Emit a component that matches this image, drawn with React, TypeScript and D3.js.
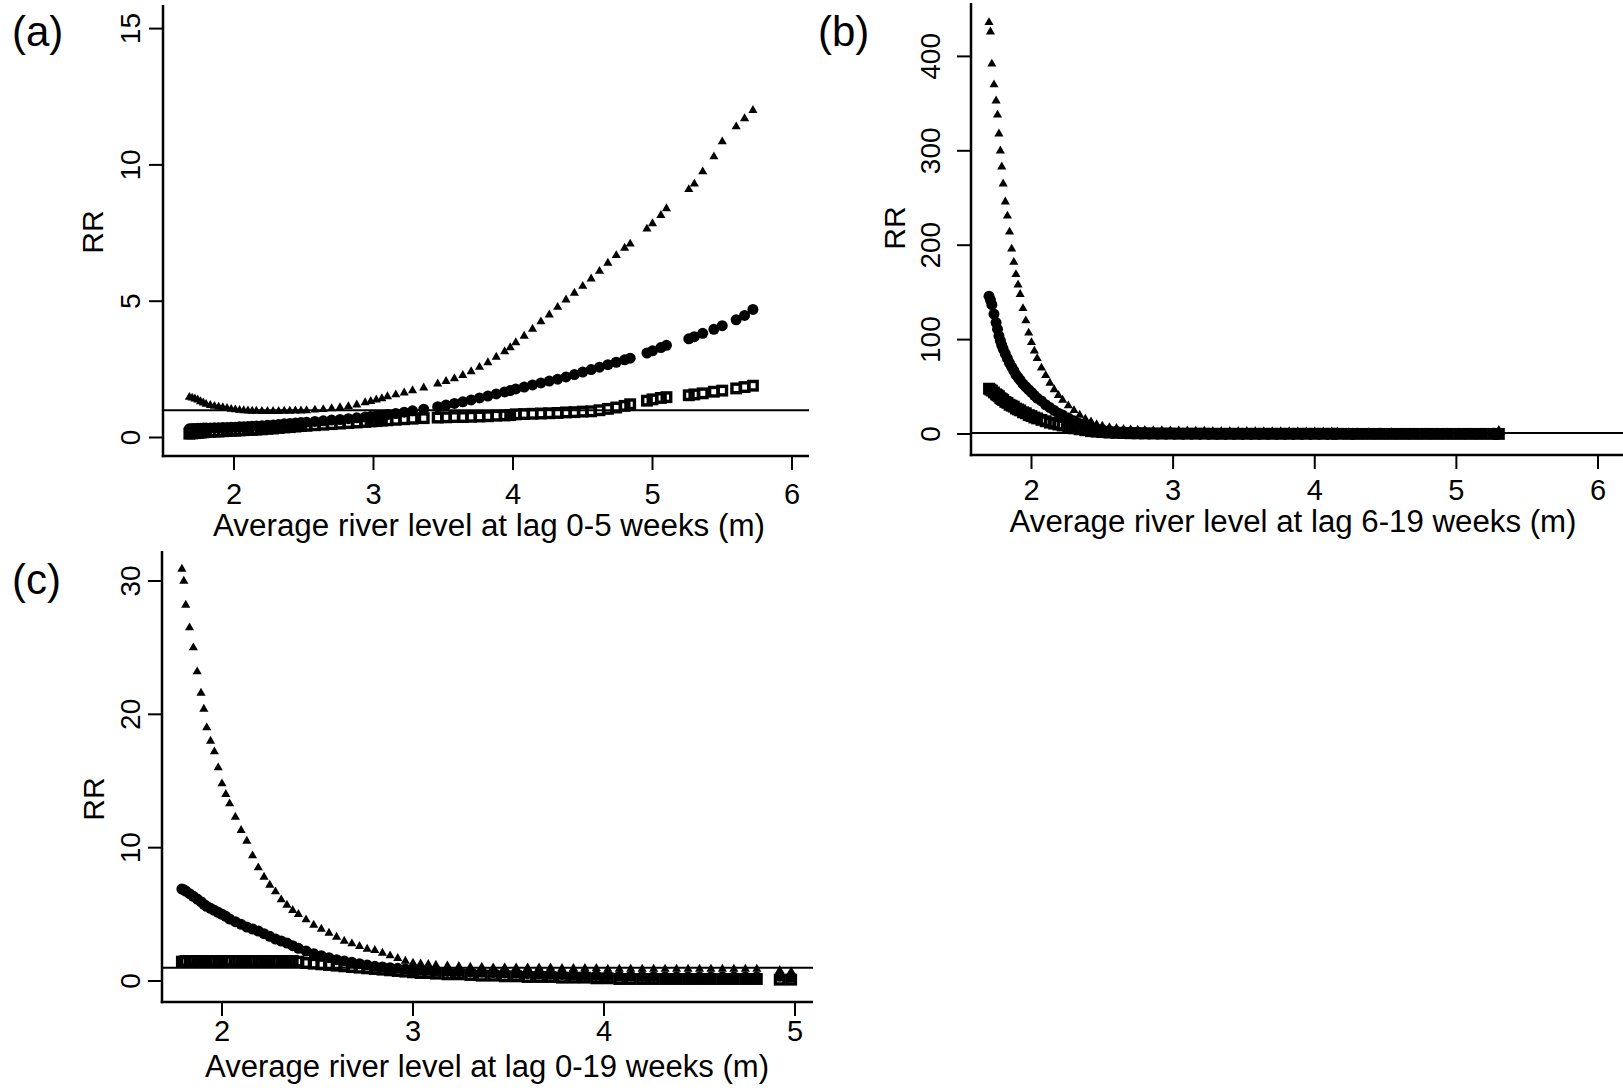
import React from 'react';
import * as d3 from 'd3';

// ---------- Panel (a): average river level at lag 0-5 weeks ----------
const levelsA = [1.68, 1.70, 1.72, 1.74, 1.76, 1.78, 1.80, 1.83, 1.86, 1.89, 1.92, 1.95, 1.98, 2.01, 2.04, 2.07, 2.10, 2.13, 2.16, 2.20, 2.24, 2.28, 2.32, 2.36, 2.40, 2.44, 2.48, 2.52, 2.58, 2.64, 2.70, 2.76, 2.82, 2.88, 2.94, 2.98, 3.02, 3.06, 3.10, 3.16, 3.22, 3.28, 3.36, 3.46, 3.52, 3.58, 3.64, 3.70, 3.76, 3.82, 3.88, 3.94, 3.98, 4.02, 4.08, 4.14, 4.20, 4.26, 4.32, 4.38, 4.44, 4.50, 4.56, 4.62, 4.68, 4.74, 4.80, 4.84, 4.96, 5.00, 5.06, 5.10, 5.26, 5.30, 5.36, 5.44, 5.50, 5.60, 5.66, 5.72];
const upperA = [1.48, 1.45, 1.42, 1.38, 1.32, 1.27, 1.22, 1.18, 1.15, 1.12, 1.10, 1.07, 1.04, 1.02, 1.00, 0.99, 0.98, 0.97, 0.97, 0.96, 0.96, 0.96, 0.96, 0.97, 0.97, 0.98, 0.98, 0.99, 1.01, 1.03, 1.06, 1.10, 1.14, 1.20, 1.28, 1.33, 1.38, 1.43, 1.50, 1.57, 1.64, 1.72, 1.82, 1.97, 2.06, 2.16, 2.28, 2.42, 2.58, 2.75, 2.95, 3.15, 3.30, 3.48, 3.72, 3.98, 4.25, 4.50, 4.78, 5.05, 5.30, 5.55, 5.82, 6.10, 6.40, 6.68, 6.95, 7.10, 7.65, 7.85, 8.15, 8.40, 9.10, 9.30, 9.75, 10.30, 10.85, 11.40, 11.70, 12.00];
const estimateA = [0.32, 0.33, 0.33, 0.34, 0.34, 0.35, 0.35, 0.35, 0.36, 0.36, 0.37, 0.37, 0.38, 0.38, 0.39, 0.39, 0.40, 0.41, 0.42, 0.43, 0.45, 0.46, 0.48, 0.50, 0.51, 0.53, 0.55, 0.56, 0.59, 0.61, 0.64, 0.66, 0.69, 0.72, 0.75, 0.77, 0.79, 0.82, 0.84, 0.88, 0.93, 0.98, 1.04, 1.13, 1.19, 1.25, 1.31, 1.38, 1.45, 1.52, 1.60, 1.67, 1.72, 1.78, 1.85, 1.93, 2.00, 2.07, 2.14, 2.22, 2.31, 2.40, 2.49, 2.58, 2.67, 2.76, 2.85, 2.91, 3.10, 3.18, 3.30, 3.38, 3.62, 3.70, 3.82, 3.97, 4.10, 4.32, 4.48, 4.70];
const lowerA = [0.14, 0.15, 0.16, 0.17, 0.18, 0.19, 0.20, 0.21, 0.22, 0.22, 0.23, 0.24, 0.25, 0.25, 0.26, 0.27, 0.28, 0.28, 0.29, 0.30, 0.32, 0.33, 0.35, 0.37, 0.38, 0.40, 0.42, 0.43, 0.45, 0.47, 0.49, 0.51, 0.53, 0.55, 0.57, 0.59, 0.60, 0.62, 0.63, 0.65, 0.67, 0.69, 0.71, 0.73, 0.74, 0.75, 0.75, 0.76, 0.77, 0.78, 0.80, 0.81, 0.82, 0.85, 0.86, 0.87, 0.88, 0.89, 0.90, 0.92, 0.93, 0.95, 0.96, 1.00, 1.05, 1.10, 1.16, 1.22, 1.35, 1.40, 1.45, 1.48, 1.55, 1.58, 1.62, 1.68, 1.72, 1.80, 1.85, 1.90];
const xTicksA = [2, 3, 4, 5, 6];
const yTicksA = [0, 5, 10, 15];

// ---------- Panel (b): average river level at lag 6-19 weeks ----------
const levelsB = [1.70, 1.71, 1.72, 1.735, 1.75, 1.76, 1.77, 1.78, 1.79, 1.80, 1.815, 1.83, 1.845, 1.86, 1.875, 1.89, 1.905, 1.92, 1.94, 1.96, 1.98, 2.00, 2.02, 2.04, 2.07, 2.10, 2.13, 2.16, 2.19, 2.22, 2.26, 2.30, 2.34, 2.38, 2.42, 2.46, 2.50, 2.55, 2.60, 2.65, 2.70, 2.75, 2.80, 2.86, 2.92, 2.98, 3.04, 3.10, 3.16, 3.22, 3.28, 3.34, 3.40, 3.46, 3.52, 3.58, 3.64, 3.70, 3.76, 3.82, 3.88, 3.94, 4.00, 4.06, 4.12, 4.16, 4.24, 4.30, 4.38, 4.46, 4.54, 4.62, 4.70, 4.78, 4.86, 4.94, 5.02, 5.10, 5.18, 5.26, 5.30];
const upperB = [436, 426, 392, 370, 353, 338, 318, 300, 283, 265, 246, 231, 214, 196, 182, 169, 158, 148, 133, 120, 107, 97, 88, 80, 70, 62, 54, 47, 41, 36, 30, 25, 20, 16, 13, 10, 8.5, 7, 6, 5, 4.6, 4.3, 4.0, 3.8, 3.6, 3.5, 3.4, 3.3, 3.2, 3.1, 3.0, 3.0, 2.9, 2.9, 2.8, 2.8, 2.7, 2.7, 2.6, 2.6, 2.5, 2.5, 2.4, 2.4, 2.3, 2.3, 1.6, 1.6, 1.5, 1.5, 1.5, 1.4, 1.4, 1.4, 1.3, 1.3, 1.3, 1.3, 1.4, 1.5, 4.0];
const estimateB = [146, 142, 137, 127, 118, 111, 104, 99, 94, 90, 85, 80, 75, 71, 67, 63, 60, 57, 53, 50, 47, 44, 41, 38, 35, 31, 28, 25, 22, 20, 17, 14, 11, 9, 7, 5.5, 4.5, 3.5, 3.0, 2.5, 2.1, 1.8, 1.6, 1.4, 1.3, 1.2, 1.1, 1.1, 1.0, 1.0, 0.9, 0.9, 0.9, 0.8, 0.8, 0.8, 0.8, 0.7, 0.7, 0.7, 0.7, 0.6, 0.6, 0.6, 0.6, 0.6, 0.5, 0.5, 0.5, 0.5, 0.5, 0.4, 0.4, 0.4, 0.4, 0.4, 0.4, 0.4, 0.4, 0.4, 0.5];
const lowerB = [48, 47, 46, 44, 42, 41, 40, 38, 37, 36, 34, 33, 31, 30, 29, 27, 26, 25, 23, 22, 20, 19, 17.5, 16.5, 15, 13.5, 12, 11, 10, 9, 7.5, 6, 5, 4, 3, 2.5, 2, 1.5, 1.2, 1.0, 0.8, 0.7, 0.6, 0.5, 0.4, 0.4, 0.3, 0.3, 0.3, 0.3, 0.2, 0.2, 0.2, 0.2, 0.2, 0.2, 0.2, 0.2, 0.2, 0.2, 0.2, 0.2, 0.2, 0.2, 0.2, 0.2, 0.1, 0.1, 0.1, 0.1, 0.1, 0.1, 0.1, 0.1, 0.1, 0.1, 0.1, 0.1, 0.1, 0.1, 0.1];
const xTicksB = [2, 3, 4, 5, 6];
const yTicksB = [0, 100, 200, 300, 400];

// ---------- Panel (c): average river level at lag 0-19 weeks ----------
const levelsC = [1.79, 1.80, 1.81, 1.83, 1.85, 1.87, 1.89, 1.905, 1.92, 1.94, 1.96, 1.98, 2.00, 2.02, 2.04, 2.07, 2.10, 2.13, 2.16, 2.19, 2.22, 2.25, 2.28, 2.31, 2.34, 2.37, 2.40, 2.44, 2.48, 2.52, 2.56, 2.60, 2.64, 2.68, 2.72, 2.76, 2.80, 2.84, 2.88, 2.92, 2.96, 3.00, 3.04, 3.08, 3.12, 3.18, 3.24, 3.30, 3.36, 3.42, 3.48, 3.54, 3.60, 3.66, 3.72, 3.78, 3.84, 3.90, 3.96, 4.02, 4.08, 4.14, 4.20, 4.26, 4.32, 4.38, 4.44, 4.50, 4.56, 4.62, 4.68, 4.74, 4.80, 4.92, 4.98];
const upperC = [30.9, 30.0, 28.2, 26.5, 25.0, 23.2, 21.6, 20.4, 19.0, 18.0, 17.2, 16.0, 14.8, 14.0, 13.3, 12.3, 11.3, 10.5, 9.4, 8.5, 7.8, 7.2, 6.7, 6.1, 5.7, 5.3, 5.0, 4.6, 4.2, 3.9, 3.6, 3.3, 3.0, 2.8, 2.6, 2.4, 2.3, 2.1, 1.9, 1.7, 1.5, 1.35, 1.3, 1.25, 1.2, 1.15, 1.1, 1.05, 1.05, 1.0, 1.0, 1.0, 1.0, 1.0, 1.0, 0.95, 0.95, 0.95, 0.95, 0.9, 0.9, 0.9, 0.9, 0.9, 0.9, 0.9, 0.9, 0.9, 0.9, 0.9, 0.9, 0.9, 0.9, 0.8, 0.7];
const estimateC = [6.9, 6.85, 6.75, 6.55, 6.35, 6.15, 5.95, 5.75, 5.6, 5.45, 5.3, 5.15, 5.0, 4.85, 4.65, 4.45, 4.25, 4.05, 3.9, 3.75, 3.55, 3.35, 3.15, 3.0, 2.85, 2.65, 2.45, 2.25, 2.05, 1.9, 1.75, 1.6, 1.5, 1.4, 1.3, 1.2, 1.1, 1.05, 1.0, 0.95, 0.9, 0.85, 0.8, 0.8, 0.75, 0.72, 0.7, 0.68, 0.65, 0.62, 0.6, 0.58, 0.55, 0.52, 0.5, 0.48, 0.45, 0.42, 0.4, 0.38, 0.35, 0.35, 0.33, 0.32, 0.3, 0.3, 0.3, 0.3, 0.3, 0.3, 0.3, 0.3, 0.3, 0.35, 0.3];
const lowerC = [1.45, 1.45, 1.5, 1.5, 1.5, 1.5, 1.5, 1.5, 1.5, 1.5, 1.5, 1.5, 1.5, 1.5, 1.5, 1.5, 1.5, 1.5, 1.5, 1.5, 1.5, 1.5, 1.5, 1.5, 1.5, 1.5, 1.45, 1.35, 1.3, 1.25, 1.2, 1.15, 1.1, 1.05, 1.0, 0.95, 0.9, 0.85, 0.8, 0.75, 0.7, 0.65, 0.6, 0.6, 0.55, 0.5, 0.5, 0.45, 0.4, 0.4, 0.35, 0.35, 0.3, 0.3, 0.3, 0.25, 0.25, 0.25, 0.2, 0.2, 0.15, 0.15, 0.15, 0.15, 0.15, 0.15, 0.15, 0.15, 0.15, 0.15, 0.15, 0.15, 0.15, 0.1, 0.1];
const xTicksC = [2, 3, 4, 5];
const yTicksC = [0, 10, 20, 30];

const panelTags = ['(a)', '(b)', '(c)'];
const xTitles = [
  'Average river level at lag 0-5 weeks (m)',
  'Average river level at lag 6-19 weeks (m)',
  'Average river level at lag 0-19 weeks (m)',
];
const yTitle = 'RR';
const referenceRR = 1;

const FONT = '"Liberation Sans", Arial, Helvetica, sans-serif';
const INK = '#000';

type Layout = {
  left: number; right: number; top: number; bottom: number;
  xDomain: [number, number]; xRange: [number, number];
  yDomain: [number, number]; yRange: [number, number];
  yLabelX: number; yTitleX: number; yTitleY: number;
  xLabelY: number; xTitleX: number; xTitleY: number; xTitleW: number;
  tagX: number; tagY: number;
};

const layoutA: Layout = {
  left: 163, right: 809, top: 5, bottom: 456,
  xDomain: [2, 6], xRange: [234, 792],
  yDomain: [0, 15], yRange: [437.5, 28.6],
  yLabelX: 140, yTitleX: 103, yTitleY: 232,
  xLabelY: 504, xTitleX: 489, xTitleY: 536, xTitleW: 552,
  tagX: 12, tagY: 46,
};
const layoutB: Layout = {
  left: 971, right: 1623, top: 3, bottom: 455,
  xDomain: [2, 6], xRange: [1031.5, 1598],
  yDomain: [0, 400], yRange: [434, 56.4],
  yLabelX: 940, yTitleX: 905, yTitleY: 228,
  xLabelY: 500, xTitleX: 1293, xTitleY: 532, xTitleW: 567,
  tagX: 818, tagY: 46,
};
const layoutC: Layout = {
  left: 162, right: 813, top: 551, bottom: 1002,
  xDomain: [2, 5], xRange: [222, 795],
  yDomain: [0, 30], yRange: [981, 581],
  yLabelX: 140, yTitleX: 104, yTitleY: 799,
  xLabelY: 1041, xTitleX: 487, xTitleY: 1077, xTitleW: 564,
  tagX: 12, tagY: 594,
};

type PanelProps = {
  layout: Layout;
  levels: number[];
  upper: number[];
  estimate: number[];
  lower: number[];
  xTicks: number[];
  yTicks: number[];
  tag: string;
  xTitle: string;
};

const trianglePath = d3.symbol().type(d3.symbolTriangle).size(36)() as string;
const SQ = 8.5;

function Panel({ layout: L, levels, upper, estimate, lower, xTicks, yTicks, tag, xTitle }: PanelProps) {
  const x = d3.scaleLinear().domain(L.xDomain).range(L.xRange);
  const y = d3.scaleLinear().domain(L.yDomain).range(L.yRange);
  const tick = 14;
  return (
    <g>
      {/* reference line at RR = 1 */}
      <line x1={L.left} x2={L.right} y1={y(referenceRR)} y2={y(referenceRR)} stroke={INK} strokeWidth={2} />

      {/* lower confidence limit: hollow squares */}
      {levels.map((v, i) => (
        <rect key={`l${i}`} x={x(v) - SQ / 2} y={y(lower[i]) - SQ / 2} width={SQ} height={SQ}
          fill="none" stroke={INK} strokeWidth={3.4} />
      ))}
      {/* point estimate: filled circles */}
      {levels.map((v, i) => (
        <circle key={`e${i}`} cx={x(v)} cy={y(estimate[i])} r={5.5} fill={INK} />
      ))}
      {/* upper confidence limit: filled triangles */}
      {levels.map((v, i) => (
        <path key={`u${i}`} d={trianglePath} transform={`translate(${x(v)},${y(upper[i])})`} fill={INK} />
      ))}

      {/* axes */}
      <line x1={L.left} x2={L.left} y1={L.top} y2={L.bottom + 1.25} stroke={INK} strokeWidth={2.5} />
      <line x1={L.left - 1.25} x2={L.right} y1={L.bottom} y2={L.bottom} stroke={INK} strokeWidth={2.5} />

      {yTicks.map((t) => (
        <g key={`yt${t}`}>
          <line x1={L.left - tick} x2={L.left} y1={y(t)} y2={y(t)} stroke={INK} strokeWidth={2} />
          <text x={L.yLabelX} y={y(t)} transform={`rotate(-90 ${L.yLabelX} ${y(t)})`}
            textAnchor="middle" fontFamily={FONT} fontSize={28} fill={INK}>{t}</text>
        </g>
      ))}
      {xTicks.map((t) => (
        <g key={`xt${t}`}>
          <line x1={x(t)} x2={x(t)} y1={L.bottom} y2={L.bottom + tick} stroke={INK} strokeWidth={2} />
          <text x={x(t)} y={L.xLabelY} textAnchor="middle" fontFamily={FONT} fontSize={29} fill={INK}>{t}</text>
        </g>
      ))}

      <text x={L.yTitleX} y={L.yTitleY} transform={`rotate(-90 ${L.yTitleX} ${L.yTitleY})`}
        textAnchor="middle" fontFamily={FONT} fontSize={30} fill={INK}>{yTitle}</text>
      <text x={L.xTitleX} y={L.xTitleY} textAnchor="middle" fontFamily={FONT} fontSize={31}
        textLength={L.xTitleW} lengthAdjust="spacingAndGlyphs" fill={INK}>{xTitle}</text>
      <text x={L.tagX} y={L.tagY} fontFamily={FONT} fontSize={42} fill={INK}>{tag}</text>
    </g>
  );
}

export default function App() {
  return (
    <svg width={1623} height={1091} viewBox="0 0 1623 1091"
      style={{ position: 'absolute', left: 0, top: 0, background: '#fff' }}>
      <rect width={1623} height={1091} fill="#fff" />
      <Panel layout={layoutA} levels={levelsA} upper={upperA} estimate={estimateA} lower={lowerA}
        xTicks={xTicksA} yTicks={yTicksA} tag={panelTags[0]} xTitle={xTitles[0]} />
      <Panel layout={layoutB} levels={levelsB} upper={upperB} estimate={estimateB} lower={lowerB}
        xTicks={xTicksB} yTicks={yTicksB} tag={panelTags[1]} xTitle={xTitles[1]} />
      <Panel layout={layoutC} levels={levelsC} upper={upperC} estimate={estimateC} lower={lowerC}
        xTicks={xTicksC} yTicks={yTicksC} tag={panelTags[2]} xTitle={xTitles[2]} />
    </svg>
  );
}
